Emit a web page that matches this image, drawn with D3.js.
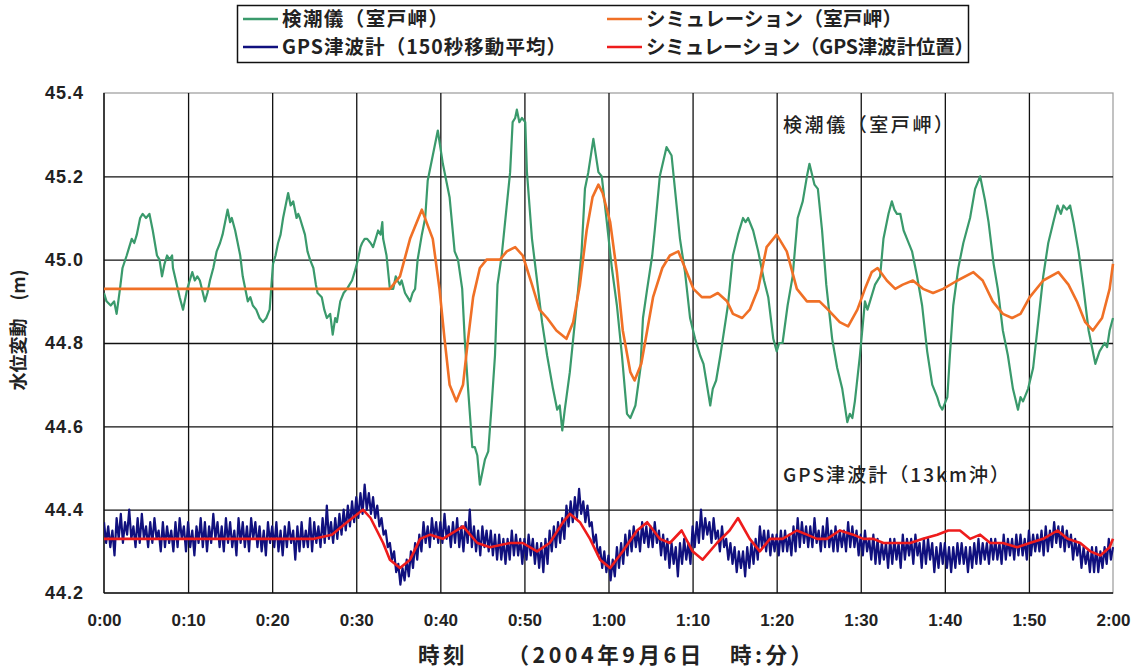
<!DOCTYPE html>
<html>
<head>
<meta charset="utf-8">
<script src="https://cdn.jsdelivr.net/npm/d3@7"></script>
<style>
  html, body { margin: 0; padding: 0; background: #fff; }
  svg { display: block; }
  .cjk { font-family: "Noto Sans CJK JP", "Noto Sans", sans-serif; }
</style>
</head>
<body>
<svg id="chart" width="1143" height="669"></svg>
<script>
// Tide gauge at Cape Muroto: [minutes after 0:00, water level (m)]
const tideGauge = [
  [0.0,44.92],[0.3,44.90],[0.8,44.89],[1.2,44.90],[1.5,44.87],[1.9,44.93],[2.2,44.98],[2.7,45.01],
  [3.0,45.03],[3.3,45.05],[3.6,45.04],[3.9,45.06],[4.3,45.10],[4.6,45.11],[5.0,45.10],[5.4,45.11],
  [5.8,45.07],[6.3,45.01],[6.6,45.00],[6.9,44.96],[7.2,44.99],[7.5,45.01],[7.8,45.00],[8.1,45.01],
  [8.2,44.98],[9.0,44.91],[9.4,44.88],[9.9,44.93],[10.2,44.95],[10.5,44.97],[10.8,44.95],[11.1,44.96],
  [11.4,44.95],[12.0,44.90],[12.3,44.92],[12.6,44.95],[13.0,44.98],[13.4,45.02],[13.8,45.04],[14.1,45.06],
  [14.4,45.09],[14.7,45.12],[15.0,45.09],[15.2,45.10],[15.6,45.07],[15.8,45.05],[16.2,45.01],[16.5,44.96],
  [16.8,44.93],[17.1,44.90],[17.4,44.91],[17.7,44.89],[18.1,44.88],[18.5,44.86],[18.9,44.85],[19.3,44.86],
  [19.7,44.88],[20.1,44.99],[20.4,45.01],[20.7,45.04],[21.0,45.06],[21.3,45.10],[21.6,45.13],[21.9,45.16],
  [22.2,45.13],[22.5,45.14],[22.9,45.10],[23.1,45.11],[23.3,45.10],[23.6,45.08],[23.9,45.06],[24.2,45.02],
  [24.5,45.00],[24.9,44.98],[25.2,44.94],[25.4,44.92],[25.9,44.91],[26.2,44.88],[26.5,44.86],[26.9,44.87],
  [27.2,44.82],[27.5,44.86],[27.7,44.85],[28.1,44.90],[28.5,44.92],[28.9,44.93],[29.2,44.94],[29.5,44.95],
  [29.8,44.97],[30.2,45.00],[30.5,45.03],[30.7,45.04],[31.0,45.05],[31.3,45.05],[31.7,45.04],[32.0,45.03],
  [32.3,45.05],[32.6,45.07],[32.9,45.06],[33.1,45.09],[33.2,45.05],[33.6,45.01],[34.0,44.93],[34.4,44.93],
  [34.7,44.96],[34.9,44.95],[35.2,44.94],[35.4,44.95],[35.8,44.92],[36.1,44.91],[36.4,44.90],[36.7,44.92],
  [37.0,44.93],[37.3,45.00],[37.8,45.06],[38.2,45.10],[38.5,45.19],[39.1,45.25],[39.7,45.31],[40.3,45.23],
  [41.1,45.15],[41.7,45.02],[42.1,45.00],[42.6,44.93],[42.9,44.81],[43.3,44.69],[43.8,44.55],[44.1,44.55],
  [44.4,44.53],[44.7,44.46],[45.0,44.49],[45.3,44.52],[45.7,44.54],[46.1,44.65],[46.5,44.77],[46.8,44.94],
  [47.3,45.01],[47.7,45.09],[48.3,45.21],[48.6,45.33],[48.9,45.34],[49.1,45.36],[49.4,45.33],[49.7,45.34],
  [50.1,45.33],[50.3,45.21],[50.9,45.05],[51.5,44.95],[52.1,44.85],[52.7,44.77],[53.4,44.69],[53.9,44.64],
  [54.2,44.65],[54.5,44.59],[54.8,44.64],[55.4,44.73],[55.8,44.81],[56.4,44.93],[56.8,45.02],[57.2,45.17],
  [57.6,45.21],[58.2,45.29],[58.8,45.21],[59.2,45.20],[59.8,45.09],[60.4,44.98],[61.0,44.89],[61.6,44.77],
  [62.2,44.63],[62.6,44.62],[63.2,44.65],[63.8,44.74],[64.1,44.86],[64.6,44.93],[65.2,45.01],[65.5,45.07],
  [66.1,45.20],[66.9,45.27],[67.5,45.25],[67.9,45.17],[68.5,45.05],[69.1,44.97],[69.7,44.86],[70.3,44.81],
  [70.9,44.77],[71.3,44.75],[71.7,44.70],[72.1,44.65],[72.4,44.69],[72.8,44.71],[73.3,44.77],[73.6,44.81],
  [74.2,44.89],[74.8,45.01],[75.4,45.06],[76.0,45.10],[76.3,45.09],[76.6,45.10],[77.2,45.07],[77.8,45.02],
  [78.5,44.95],[79.0,44.91],[79.6,44.81],[80.0,44.78],[80.3,44.80],[80.7,44.80],[81.3,44.89],[81.9,44.96],
  [82.5,45.10],[83.1,45.14],[83.6,45.20],[83.9,45.23],[84.5,45.18],[84.9,45.17],[85.4,45.07],[85.9,44.94],
  [86.6,44.81],[87.2,44.74],[87.8,44.69],[88.4,44.61],[88.7,44.63],[89.0,44.62],[89.3,44.66],[89.9,44.77],
  [90.5,44.90],[90.8,44.88],[91.1,44.90],[91.7,44.94],[92.3,44.96],[92.7,45.05],[93.3,45.11],[93.7,45.14],
  [94.0,45.12],[94.3,45.11],[94.7,45.11],[95.1,45.07],[95.5,45.05],[96.1,45.02],[96.7,44.96],[97.3,44.89],
  [97.9,44.78],[98.5,44.70],[99.1,44.67],[99.4,44.65],[99.7,44.64],[100.3,44.67],[100.6,44.77],[101.0,44.89],
  [101.6,44.98],[102.2,45.04],[102.6,45.07],[103.0,45.10],[103.6,45.17],[104.2,45.20],[104.8,45.14],[105.2,45.09],
  [105.8,44.99],[106.3,44.93],[106.9,44.83],[107.5,44.77],[108.1,44.69],[108.7,44.64],[109.0,44.67],[109.3,44.66],
  [109.9,44.69],[110.5,44.74],[111.1,44.85],[111.7,44.96],[112.3,45.04],[112.9,45.09],[113.4,45.13],[113.8,45.11],
  [114.1,45.13],[114.5,45.12],[114.9,45.13],[115.3,45.09],[115.9,45.02],[116.5,44.93],[117.1,44.83],[117.9,44.75],
  [118.4,44.78],[119.0,44.80],[119.3,44.79],[119.6,44.83],[120.0,44.86]
];

// Simulated water level at Cape Muroto
const simMuroto = [
  [0,44.93],[34.0,44.93],[35.2,44.96],[36.4,45.05],[37.8,45.12],[39.1,45.05],[39.9,44.93],[40.5,44.81],
  [41.1,44.70],[41.9,44.66],[42.7,44.70],[43.3,44.81],[43.9,44.91],[44.7,44.98],[45.5,45.00],[47.1,45.00],
  [47.9,45.02],[48.9,45.03],[49.8,45.01],[50.9,44.94],[51.8,44.88],[52.7,44.86],[53.8,44.83],[55.0,44.81],
  [55.8,44.85],[56.6,44.94],[57.4,45.07],[58.1,45.15],[58.8,45.18],[59.3,45.16],[60.2,45.09],[61.0,44.97],
  [61.7,44.83],[62.6,44.73],[63.1,44.71],[63.9,44.75],[64.6,44.83],[65.3,44.91],[66.4,44.98],[67.3,45.01],
  [68.3,45.02],[69.1,44.98],[70.1,44.93],[71.1,44.91],[72.1,44.91],[73.0,44.92],[74.1,44.90],[74.8,44.87],
  [75.9,44.86],[76.8,44.88],[77.8,44.93],[78.8,45.03],[80.0,45.06],[81.2,45.02],[82.4,44.93],[83.6,44.90],
  [85.1,44.90],[86.1,44.88],[87.5,44.85],[88.5,44.84],[89.6,44.88],[90.5,44.93],[91.3,44.97],[92.0,44.98],
  [93.1,44.95],[94.1,44.93],[95.0,44.94],[96.2,44.95],[97.4,44.93],[98.6,44.92],[99.8,44.93],[101.5,44.95],
  [103.4,44.97],[104.5,44.95],[105.7,44.90],[106.9,44.87],[108.0,44.86],[109.0,44.87],[110.1,44.91],[111.7,44.95],
  [113.5,44.97],[114.7,44.94],[115.7,44.90],[116.7,44.85],[117.6,44.83],[118.7,44.86],[119.6,44.93],[120.0,44.99]
];

// GPS buoy (150 s moving average), one reading every 15 s from 0:00 (one row = 5 minutes)
const gpsStepMin = 0.25;
const gpsBuoy = [
  44.37,44.32,44.36,44.31, 44.35,44.29,44.38,44.33, 44.39,44.32,44.37,44.34, 44.40,44.33,44.36,44.31, 44.38,44.32,44.39,44.33,
  44.36,44.31,44.37,44.32, 44.38,44.33,44.35,44.30, 44.37,44.31,44.36,44.32, 44.35,44.30,44.37,44.31, 44.38,44.33,44.36,44.30,
  44.37,44.31,44.35,44.29, 44.36,44.32,44.38,44.31, 44.37,44.30,44.36,44.32, 44.39,44.33,44.37,44.31, 44.36,44.30,44.38,44.32,
  44.37,44.31,44.35,44.29, 44.38,44.32,44.37,44.31, 44.36,44.30,44.38,44.33, 44.37,44.31,44.36,44.30, 44.35,44.29,44.37,44.32,
  44.36,44.31,44.37,44.30, 44.35,44.29,44.36,44.31, 44.37,44.32,44.35,44.28, 44.36,44.30,44.37,44.31, 44.35,44.31,44.38,44.30,
  44.37,44.32,44.36,44.31, 44.38,44.32,44.41,44.33, 44.37,44.32,44.38,44.33, 44.39,44.34,44.40,44.35, 44.41,44.36,44.42,44.37,
  44.43,44.38,44.44,44.39, 44.46,44.40,44.44,44.39, 44.43,44.38,44.41,44.36, 44.38,44.34,44.35,44.31, 44.32,44.28,44.30,44.25,
  44.27,44.22,44.26,44.23, 44.28,44.24,44.30,44.26, 44.32,44.28,44.34,44.30, 44.37,44.32,44.36,44.31, 44.38,44.33,44.37,44.32,
  44.37,44.32,44.39,44.33, 44.36,44.31,44.37,44.32, 44.38,44.31,44.36,44.30, 44.37,44.32,44.40,44.31, 44.36,44.30,44.35,44.29,
  44.36,44.31,44.35,44.30, 44.35,44.29,44.34,44.28, 44.34,44.28,44.33,44.27, 44.33,44.28,44.35,44.29, 44.34,44.29,44.33,44.27,
  44.33,44.28,44.34,44.29, 44.33,44.27,44.32,44.26, 44.32,44.25,44.33,44.27, 44.35,44.30,44.36,44.31, 44.37,44.32,44.38,44.33,
  44.41,44.36,44.42,44.37, 44.43,44.38,44.45,44.39, 44.42,44.37,44.41,44.36, 44.37,44.32,44.34,44.29, 44.31,44.26,44.30,44.25,
  44.29,44.23,44.28,44.24, 44.31,44.26,44.32,44.27, 44.34,44.29,44.35,44.30, 44.36,44.31,44.35,44.30, 44.37,44.32,44.36,44.31,
  44.36,44.31,44.37,44.32, 44.35,44.29,44.34,44.28, 44.33,44.26,44.32,44.27, 44.31,44.24,44.32,44.27, 44.33,44.28,44.32,44.27,
  44.36,44.31,44.37,44.32, 44.40,44.33,44.38,44.34, 44.37,44.32,44.38,44.33, 44.35,44.30,44.36,44.31, 44.33,44.28,44.32,44.27,
  44.31,44.25,44.30,44.26, 44.30,44.24,44.31,44.26, 44.32,44.27,44.33,44.28, 44.36,44.31,44.35,44.30, 44.35,44.29,44.34,44.30,
  44.34,44.29,44.35,44.30, 44.35,44.30,44.34,44.29, 44.36,44.30,44.38,44.31, 44.37,44.32,44.36,44.31, 44.36,44.31,44.38,44.32,
  44.35,44.30,44.36,44.31, 44.38,44.31,44.35,44.30, 44.36,44.30,44.35,44.31, 44.35,44.30,44.37,44.31, 44.36,44.31,44.35,44.29,
  44.34,44.29,44.35,44.30, 44.33,44.28,44.34,44.27, 44.33,44.27,44.32,44.28, 44.32,44.26,44.33,44.27, 44.33,44.28,44.32,44.26,
  44.34,44.28,44.33,44.29, 44.33,44.27,44.34,44.29, 44.32,44.26,44.33,44.27, 44.33,44.28,44.32,44.25, 44.31,44.26,44.32,44.27,
  44.32,44.26,44.31,44.25, 44.31,44.26,44.32,44.27, 44.32,44.27,44.31,44.25, 44.31,44.26,44.32,44.27, 44.33,44.27,44.32,44.28,
  44.32,44.27,44.33,44.28, 44.33,44.28,44.32,44.27, 44.34,44.28,44.33,44.29, 44.33,44.28,44.34,44.29, 44.34,44.29,44.33,44.28,
  44.35,44.29,44.34,44.30, 44.34,44.30,44.35,44.29, 44.36,44.30,44.35,44.31, 44.37,44.32,44.36,44.31, 44.36,44.30,44.35,44.31,
  44.34,44.28,44.33,44.29, 44.32,44.26,44.31,44.27, 44.30,44.25,44.31,44.25, 44.31,44.25,44.30,44.26, 44.31,44.27,44.33,44.28,
  44.31
];

// Simulated water level at the GPS buoy position
const simGps = [
  [0,44.33],[25.0,44.33],[27.1,44.34],[28.9,44.37],[30.8,44.40],[31.7,44.38],[33.2,44.32],[34.0,44.28],
  [35.2,44.26],[36.4,44.28],[37.6,44.33],[38.8,44.34],[40.3,44.33],[42.7,44.36],[44.4,44.32],[45.9,44.31],
  [48.3,44.32],[49.8,44.32],[51.5,44.30],[53.0,44.32],[54.6,44.37],[55.4,44.39],[56.6,44.37],[57.8,44.33],
  [59.0,44.28],[60.2,44.26],[61.7,44.30],[63.4,44.35],[64.6,44.37],[66.1,44.33],[67.3,44.32],[68.7,44.35],
  [70.0,44.30],[71.2,44.28],[72.9,44.32],[74.4,44.35],[75.4,44.38],[76.8,44.33],[78.0,44.30],[79.2,44.33],
  [80.7,44.33],[82.4,44.35],[83.6,44.34],[84.8,44.33],[86.0,44.33],[87.5,44.35],[89.1,44.34],[90.3,44.33],
  [91.5,44.33],[92.7,44.32],[94.3,44.32],[95.9,44.32],[97.4,44.33],[99.1,44.34],[100.4,44.35],[101.8,44.35],
  [103.0,44.33],[104.2,44.34],[105.4,44.32],[106.9,44.32],[108.6,44.31],[110.1,44.32],[111.7,44.33],[113.4,44.35],
  [114.6,44.33],[116.1,44.32],[117.3,44.30],[118.5,44.29],[119.6,44.31],[120.0,44.33]
];

const xTicks = [0,10,20,30,40,50,60,70,80,90,100,110,120];
const yTicks = [44.2,44.4,44.6,44.8,45.0,45.2,45.4];

const seriesNames = [
  "検潮儀（室戸岬）",
  "シミュレーション（室戸岬）",
  "GPS津波計（150秒移動平均）",
  "シミュレーション（GPS津波計位置）"
];
const seriesColors = ["#3a9a6c", "#f07026", "#10107e", "#ee1c1c"];

const yTitle = "水位変動　(m)";
const xTitle = "時刻　　（2004年9月6日　時:分）";
const labelTide = "検潮儀（室戸岬）";
const labelGps = "GPS津波計（13km沖）";

// ---- layout ----
const svg = d3.select("#chart");
const plot = { left: 104, right: 1113, top: 93, bottom: 593 };

const x = d3.scaleLinear().domain([0, 120]).range([plot.left, plot.right]);
const y = d3.scaleLinear().domain([44.2, 45.4]).range([plot.bottom, plot.top]);

const fmtTime = m => `${Math.floor(m / 60)}:${String(m % 60).padStart(2, "0")}`;

// plot frame (light on top/right)
svg.append("rect")
  .attr("x", plot.left).attr("y", plot.top)
  .attr("width", plot.right - plot.left).attr("height", plot.bottom - plot.top)
  .attr("fill", "#fff").attr("stroke", "#9a9a9a").attr("stroke-width", 1.2);

// gridlines
const gridX = svg.append("g")
  .attr("transform", `translate(0,${plot.bottom})`)
  .call(d3.axisBottom(x).tickValues(xTicks.slice(1, -1)).tickSize(-(plot.bottom - plot.top)).tickFormat(""));
const gridY = svg.append("g")
  .attr("transform", `translate(${plot.left},0)`)
  .call(d3.axisLeft(y).tickValues(yTicks.slice(1, -1)).tickSize(-(plot.right - plot.left)).tickFormat(""));
[gridX, gridY].forEach(g => {
  g.select(".domain").remove();
  g.selectAll(".tick line").attr("stroke", "#111").attr("stroke-width", 1.3);
});

// axis lines
svg.append("line").attr("x1", plot.left).attr("x2", plot.left)
  .attr("y1", plot.top).attr("y2", plot.bottom).attr("stroke", "#111").attr("stroke-width", 1.5);
svg.append("line").attr("x1", plot.left).attr("x2", plot.right)
  .attr("y1", plot.bottom).attr("y2", plot.bottom).attr("stroke", "#111").attr("stroke-width", 1.5);

// tick labels
const axX = svg.append("g")
  .attr("transform", `translate(0,${plot.bottom})`)
  .call(d3.axisBottom(x).tickValues(xTicks).tickSize(0).tickPadding(21).tickFormat(fmtTime));
axX.select(".domain").remove();
axX.selectAll("text")
  .attr("font-family", "'Liberation Sans', Arial, sans-serif")
  .attr("font-size", 17).attr("font-weight", "bold").attr("fill", "#222");

const axY = svg.append("g")
  .attr("transform", `translate(${plot.left},0)`)
  .call(d3.axisLeft(y).tickValues(yTicks).tickSize(0).tickPadding(20).tickFormat(d3.format(".1f")));
axY.select(".domain").remove();
axY.selectAll("text")
  .attr("font-family", "'Liberation Sans', Arial, sans-serif")
  .attr("font-size", 18).attr("font-weight", "bold").attr("letter-spacing", 1).attr("fill", "#222");

// series
const line = d3.line().x(d => x(d[0])).y(d => y(d[1]));
svg.append("clipPath").attr("id", "plotClip")
  .append("rect").attr("x", plot.left).attr("y", plot.top - 2)
  .attr("width", plot.right - plot.left + 2).attr("height", plot.bottom - plot.top + 4);
const series = svg.append("g").attr("clip-path", "url(#plotClip)");

const gpsPoints = gpsBuoy.map((v, i) => [i * gpsStepMin, v]);

const data = [tideGauge, simMuroto, gpsPoints, simGps];
const widths = [2.2, 2.6, 2.2, 2.6];
data.forEach((d, i) => {
  series.append("path")
    .datum(d)
    .attr("d", line)
    .attr("fill", "none")
    .attr("stroke", seriesColors[i])
    .attr("stroke-width", widths[i])
    .attr("stroke-linejoin", "round");
});

// in-plot labels
svg.append("text").attr("class", "cjk")
  .attr("x", 783).attr("y", 132).attr("font-size", 19).attr("font-weight", 500).attr("fill", "#222")
  .attr("textLength", 170).attr("lengthAdjust", "spacing")
  .text(labelTide);
svg.append("text").attr("class", "cjk")
  .attr("x", 783).attr("y", 482).attr("font-size", 19).attr("font-weight", 500).attr("fill", "#222")
  .attr("textLength", 226).attr("lengthAdjust", "spacing")
  .text(labelGps);

// axis titles
svg.append("text").attr("class", "cjk")
  .attr("transform", "translate(25,330) rotate(-90)")
  .attr("text-anchor", "middle").attr("font-size", 18).attr("font-weight", 700).attr("fill", "#222")
  .text(yTitle);
svg.append("text").attr("class", "cjk")
  .attr("x", 418).attr("y", 663)
  .attr("font-size", 21.5).attr("font-weight", 700).attr("fill", "#222")
  .attr("textLength", 394).attr("lengthAdjust", "spacing")
  .text(xTitle);

// legend
const legend = svg.append("g");
legend.append("rect").attr("x", 237.5).attr("y", 5.5).attr("width", 731).attr("height", 57)
  .attr("fill", "#fff").attr("stroke", "#111").attr("stroke-width", 1.5);
const legendPos = [[243, 19], [607, 19], [243, 47], [607, 47]];
const legendLen = [166, 256, 284, 328];
seriesNames.forEach((name, i) => {
  const [lx, ly] = legendPos[i];
  legend.append("line").attr("x1", lx).attr("x2", lx + 35).attr("y1", ly).attr("y2", ly)
    .attr("stroke", seriesColors[i]).attr("stroke-width", 2.6);
  legend.append("text").attr("class", "cjk")
    .attr("x", lx + 39).attr("y", ly).attr("dy", "0.35em")
    .attr("font-size", 19.5).attr("font-weight", 700).attr("fill", "#222")
    .attr("textLength", legendLen[i]).attr("lengthAdjust", "spacing")
    .text(name);
});
</script>
</body>
</html>
